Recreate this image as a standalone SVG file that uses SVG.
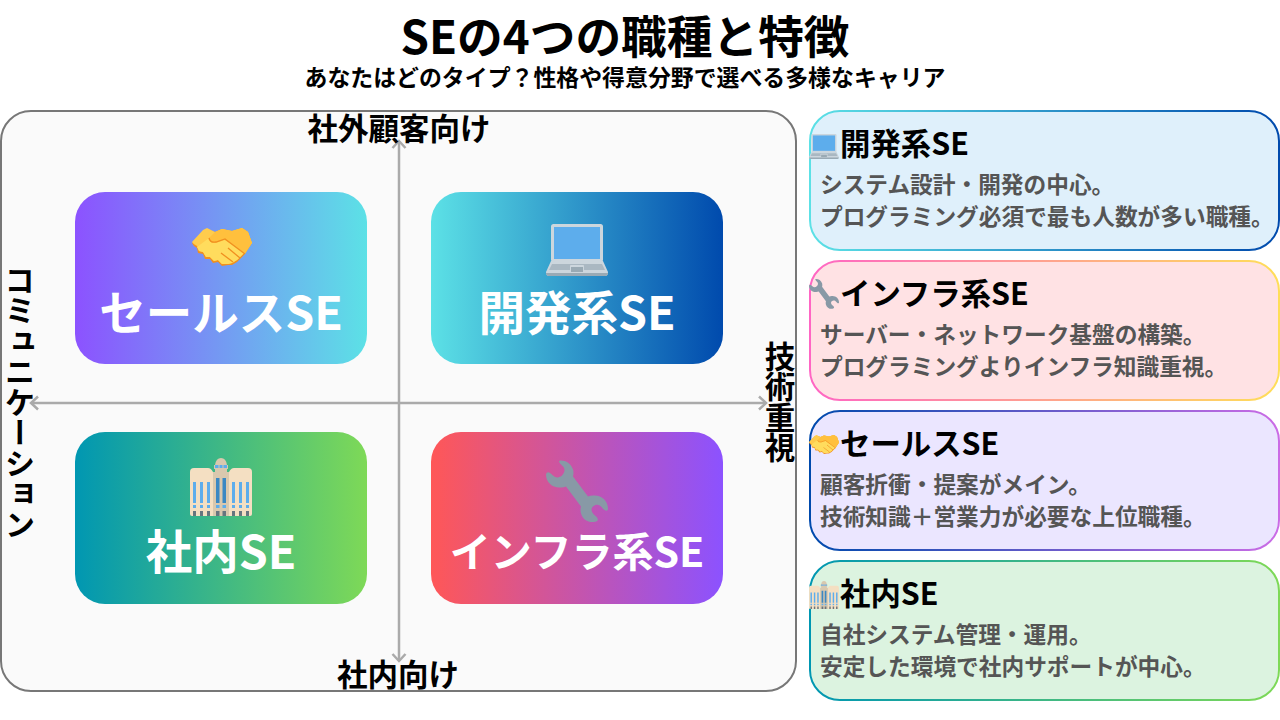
<svg xmlns="http://www.w3.org/2000/svg" xmlns:xlink="http://www.w3.org/1999/xlink" width="1280" height="720" viewBox="0 0 1280 720">
<style>
text{font-family:"Noto Sans CJK JP","Noto Sans",sans-serif;font-weight:700}
.title{font-size:45.700px;fill:#000;text-anchor:middle}
.sub{font-size:22.900px;fill:#000;text-anchor:middle}
.axis{font-size:30.500px;fill:#000;text-anchor:middle}
.axisv{font-size:30.500px;fill:#000;text-anchor:middle;writing-mode:vertical-rl}
.card{font-size:46.500px;fill:#fff;text-anchor:middle}
.card-s{font-size:41px;fill:#fff;text-anchor:middle}
.h{font-size:30.400px;fill:#000}
.d{font-size:22.700px;fill:#555}
.ax{stroke:#aaa;stroke-width:2.500;fill:none;marker-end:url(#arr)}
</style>
<defs>
<marker id="arr" markerUnits="userSpaceOnUse" markerWidth="12" markerHeight="16" refX="10" refY="8" orient="auto"><path d="M3 1.500L10 8L3 14.500" fill="none" stroke="#aaa" stroke-width="2.500"/></marker>
<linearGradient id="g1"><stop offset="0" stop-color="#8c52ff"/><stop offset="1" stop-color="#5ce1e6"/></linearGradient>
<linearGradient id="g2"><stop offset="0" stop-color="#5ce1e6"/><stop offset="1" stop-color="#004aad"/></linearGradient>
<linearGradient id="g3"><stop offset="0" stop-color="#0097b2"/><stop offset="1" stop-color="#7ed957"/></linearGradient>
<linearGradient id="g4"><stop offset="0" stop-color="#ff5757"/><stop offset="1" stop-color="#8c52ff"/></linearGradient>
<linearGradient id="b2"><stop offset="0" stop-color="#ff66c4"/><stop offset="1" stop-color="#ffde59"/></linearGradient>
<linearGradient id="b3"><stop offset="0" stop-color="#004aad"/><stop offset="1" stop-color="#cb6ce6"/></linearGradient>
<symbol id="laptop" viewBox="0 0 62 52">
<rect x="5" y="0" width="52" height="38" rx="2.500" fill="#ccd6dd"/>
<rect x="8" y="3" width="46" height="32" fill="#5dadec"/>
<path d="M5 37H57L62 48Q62 52 59 52H3Q0 52 0 48Z" fill="#ccd6dd"/>
<path d="M6 40H56L59 46H3Z" fill="#aab8c2"/>
<rect x="24" y="41" width="14" height="7" rx="1" fill="#ccd6dd"/>
<rect x="25" y="43" width="12" height="5" fill="#9aaab4"/>
<path d="M0 49H62Q62 52 59 52H3Q0 52 0 49Z" fill="#99aab5"/>
</symbol>
<symbol id="hands" viewBox="0 0 60 38">
<path d="M11 3L0 15Q1 18 5 20L6 25L11 26L13 31L18 31L21 35L26 34L30 38L36 37L40 37L45 34L52 27L60 15L56 4L50 0L40 3L30 1L23 4L15 1Z" fill="#f19020"/>
<path d="M11 2L0 14Q1 16 5 18L7 23L11 24L14 29L18 29L22 33L26 32L30 36L36 36L40 35L45 32L52 25L60 15L56 4L50 0L40 3L30 1L23 4L15 0Z" fill="#ffcc4d"/>
<path d="M23 4L16 11L18 16L32 12L53 26L60 15L56 4L50 0L40 3L30 1Z" fill="#ffc03d"/>
<path d="M17 10L5 19L7 23L11 24L14 29L18 29L22 33L26 32L30 36L36 36L40 35L45 32L52 25L33 12L24 15Q17 15 17 10Z" fill="#ffdc5d"/>
<path d="M17 10Q18 15 24 14L33 11L53 26M36 20L48 30M29 25L41 34" fill="none" stroke="#f19020" stroke-width="1.300"/>
</symbol>
<symbol id="bldg" viewBox="0 0 62 58">
<path d="M0 14Q0 10 4 10H18Q21 10 23 14V58H2Q0 58 0 56Z" fill="#f4dfc2"/>
<path d="M62 14Q62 10 58 10H44Q41 10 39 14V58H60Q62 58 62 56Z" fill="#f4dfc2"/>
<path d="M23 14V58H39V14H37V7Q36 0 31 0Q26 0 25 7V14Z" fill="#d9c8ae"/>
<path d="M24 7H38V11H24Z" fill="#d9c8ae"/>
<path d="M25 7H28.500V10H25ZM29.500 7H32.500V10H29.500ZM33.500 7H37V10H33.500Z" fill="#5dadec"/>
<path d="M3 24H6V45H3ZM10 24H13V45H10ZM17 24H20V45H17ZM42 24H45V45H42ZM49 24H52V45H49ZM56 24H59V45H56Z" fill="#5dadec"/>
<path d="M26 20H29.500V45H26ZM32.500 20H36V45H32.500Z" fill="#3b88c3"/>
<path d="M3 47H6V50H3ZM10 47H13V50H10ZM17 47H20V50H17ZM42 47H45V50H42ZM49 47H52V50H49ZM56 47H59V50H56ZM26 47H29.500V50H26ZM32.500 47H36V50H32.500Z" fill="#5dadec"/>
<path d="M3 53H6V58H3ZM10 53H13V58H10ZM17 53H20V58H17ZM26 53H29.500V58H26ZM32.500 53H36V58H32.500ZM42 53H45V58H42ZM49 53H52V58H49ZM56 53H59V58H56Z" fill="#66757f"/>
</symbol>
<symbol id="wrench" viewBox="0 0 62 62">
<path d="M15 0C11 0 14 3 17 6C20 9 18 13 16 15C14 17 10 18 7 15C4 12 1 10 0 14C0 22 7 28 15 27Q18 27 20 26L35 46Q34 50 35 53C37 60 44 63 50 61C53 60 52 57 49 55C46 52 44 49 47 46C50 43 54 44 56 47C58 50 62 52 62 48C62 40 55 34 47 35Q44 35 42 36L27 16Q28 12 27 9C25 3 20 0 15 0Z" fill="#8899a6"/>
</symbol>
</defs>
<rect width="1280" height="720" fill="#fff"/>
<text class="title" x="625" y="54">SEの4つの職種と特徴</text>
<text class="sub" x="625" y="86">あなたはどのタイプ？性格や得意分野で選べる多様なキャリア</text>
<g id="matrix"><rect x="1" y="111" width="795" height="580" rx="30" fill="#fafafa" stroke="#777" stroke-width="2"/></g>
<g id="connectors">
<path class="ax" d="M399 403V141"/>
<path class="ax" d="M399 403V661"/>
<path class="ax" d="M399 403H766"/>
<path class="ax" d="M399 403H31"/>
</g>
<g id="axis-top"><text class="axis" x="399" y="140">社外顧客向け</text></g>
<g id="axis-bottom"><text class="axis" x="398" y="686">社内向け</text></g>
<g id="axis-left"><text class="axisv" x="20" y="402">コミュニケーション</text></g>
<g id="axis-right"><text class="axisv" x="780" y="402">技術重視</text></g>
<g id="card-sales"><rect x="75" y="192" width="292" height="172" rx="30" fill="url(#g1)"/><use xlink:href="#hands" href="#hands" x="192" y="228" width="60" height="38"/><text class="card" x="221" y="330">セールスSE</text></g>
<g id="card-dev"><rect x="431" y="192" width="292" height="172" rx="30" fill="url(#g2)"/><use xlink:href="#laptop" href="#laptop" x="546" y="224" width="62" height="52"/><text class="card" x="577" y="330">開発系SE</text></g>
<g id="card-internal"><rect x="75" y="432" width="292" height="172" rx="30" fill="url(#g3)"/><use xlink:href="#bldg" href="#bldg" x="190" y="458" width="62" height="58"/><text class="card" x="221" y="569">社内SE</text></g>
<g id="card-infra"><rect x="431" y="432" width="292" height="172" rx="30" fill="url(#g4)"/><use xlink:href="#wrench" href="#wrench" x="546" y="460" width="62" height="63"/><text class="card-s" x="577" y="567">インフラ系SE</text></g>
<g id="info-dev"><rect x="810" y="111" width="469" height="139" rx="30" fill="#dff0fb" stroke="url(#g2)" stroke-width="2"/><use xlink:href="#laptop" href="#laptop" x="809" y="134" width="30" height="25"/><text class="h" x="840" y="155">開発系SE</text><text class="d" x="820" y="193">システム設計・開発の中心。</text><text class="d" x="820" y="225">プログラミング必須で最も人数が多い職種。</text></g>
<g id="info-infra"><rect x="810" y="261" width="469" height="139" rx="30" fill="#ffe2e4" stroke="url(#b2)" stroke-width="2"/><use xlink:href="#wrench" href="#wrench" x="809" y="279" width="30" height="30"/><text class="h" x="840" y="305">インフラ系SE</text><text class="d" x="820" y="343">サーバー・ネットワーク基盤の構築。</text><text class="d" x="820" y="375">プログラミングよりインフラ知識重視。</text></g>
<g id="info-sales"><rect x="810" y="411" width="469" height="139" rx="30" fill="#ebe6ff" stroke="url(#b3)" stroke-width="2"/><use xlink:href="#hands" href="#hands" x="809" y="435" width="30" height="19"/><text class="h" x="840" y="455">セールスSE</text><text class="d" x="820" y="493">顧客折衝・提案がメイン。</text><text class="d" x="820" y="525">技術知識＋営業力が必要な上位職種。</text></g>
<g id="info-internal"><rect x="810" y="561" width="469" height="139" rx="30" fill="#dcf3e0" stroke="url(#g3)" stroke-width="2"/><use xlink:href="#bldg" href="#bldg" x="809" y="581" width="30" height="28"/><text class="h" x="840" y="605">社内SE</text><text class="d" x="820" y="643">自社システム管理・運用。</text><text class="d" x="820" y="675">安定した環境で社内サポートが中心。</text></g>
</svg>
